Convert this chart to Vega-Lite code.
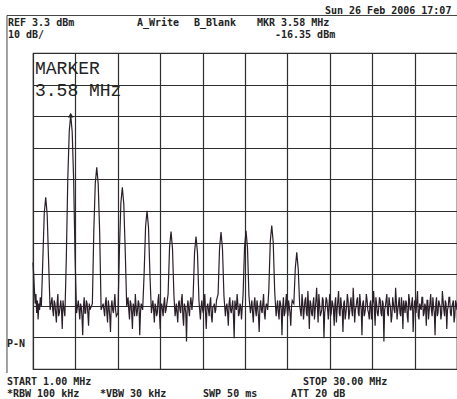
{
  "$schema": "https://vega.github.io/schema/vega-lite/v6.json",
  "width": 424,
  "height": 316,
  "autosize": {"type": "none"},
  "padding": {"left": 33, "top": 53, "right": 0, "bottom": 30},
  "background": "#ffffff",
  "config": {
    "view": {"stroke": "#2e2e2e", "strokeWidth": 1.2},
    "axis": {"labels": false, "ticks": false, "domain": false, "title": null, "grid": true, "gridColor": "#2e2e2e", "gridOpacity": 1, "gridWidth": 1.2}
  },
  "encoding": {
    "x": {"field": "f", "type": "quantitative",
          "scale": {"domain": [1, 30], "nice": false, "zero": false},
          "axis": {"values": [1, 3.9, 6.8, 9.7, 12.6, 15.5, 18.4, 21.3, 24.2, 27.1, 30]}},
    "y": {"field": "p", "type": "quantitative",
          "scale": {"domain": [-96.7, 3.3], "nice": false, "zero": false},
          "axis": {"values": [-96.7, -86.7, -76.7, -66.7, -56.7, -46.7, -36.7, -26.7, -16.7, -6.7, 3.3]}}
  },
  "layer": [
    {
      "data": {"values": [
        {"f": -0.78, "f2": 31, "p": 15.17, "p2": 15.17},
        {"f": -0.78, "f2": -0.78, "p": 15.17, "p2": -98}
      ]},
      "mark": {"type": "rule", "clip": false, "color": "#444444", "strokeWidth": 1},
      "encoding": {"x2": {"field": "f2"}, "y2": {"field": "p2"}}
    },
    {
      "data": {"values": [
        {"f": 1.00, "p": -63}, {"f": 1.05, "p": -67}, {"f": 1.10, "p": -72}, {"f": 1.15, "p": -76},
        {"f": 1.20, "p": -73}, {"f": 1.25, "p": -79}, {"f": 1.30, "p": -75}, {"f": 1.35, "p": -81},
        {"f": 1.40, "p": -76}, {"f": 1.45, "p": -78}, {"f": 1.50, "p": -74}, {"f": 1.57, "p": -77},
        {"f": 1.67, "p": -62.4}, {"f": 1.77, "p": -47.4}, {"f": 1.87, "p": -42.4}, {"f": 1.97, "p": -47.8},
        {"f": 2.07, "p": -63}, {"f": 2.17, "p": -78},
        {"f": 2.3, "p": -74}, {"f": 2.4, "p": -80}, {"f": 2.5, "p": -76}, {"f": 2.6, "p": -82},
        {"f": 2.7, "p": -73}, {"f": 2.8, "p": -79}, {"f": 2.9, "p": -75}, {"f": 3.0, "p": -84}, {"f": 3.1, "p": -77},
        {"f": 3.18, "p": -80}, {"f": 3.28, "p": -61.4}, {"f": 3.38, "p": -36.4}, {"f": 3.48, "p": -21.4},
        {"f": 3.58, "p": -16.35}, {"f": 3.68, "p": -21.6}, {"f": 3.78, "p": -36.8}, {"f": 3.88, "p": -61.8}, {"f": 3.98, "p": -79},
        {"f": 4.1, "p": -75}, {"f": 4.2, "p": -81}, {"f": 4.3, "p": -77}, {"f": 4.4, "p": -86}, {"f": 4.5, "p": -74},
        {"f": 4.6, "p": -79}, {"f": 4.7, "p": -76}, {"f": 4.8, "p": -83}, {"f": 4.9, "p": -78},
        {"f": 5.06, "p": -76}, {"f": 5.16, "p": -52.9}, {"f": 5.26, "p": -37.9}, {"f": 5.36, "p": -32.9},
        {"f": 5.46, "p": -38.2}, {"f": 5.56, "p": -53.4}, {"f": 5.66, "p": -78},
        {"f": 5.8, "p": -76}, {"f": 5.9, "p": -80}, {"f": 6.0, "p": -74}, {"f": 6.1, "p": -82}, {"f": 6.2, "p": -77},
        {"f": 6.3, "p": -85}, {"f": 6.4, "p": -75}, {"f": 6.5, "p": -79}, {"f": 6.6, "p": -73}, {"f": 6.7, "p": -80},
        {"f": 6.81, "p": -79}, {"f": 6.91, "p": -59.2}, {"f": 7.01, "p": -44.2}, {"f": 7.11, "p": -39.2},
        {"f": 7.21, "p": -44.5}, {"f": 7.31, "p": -59.6}, {"f": 7.41, "p": -77},
        {"f": 7.5, "p": -74}, {"f": 7.6, "p": -81}, {"f": 7.7, "p": -76}, {"f": 7.8, "p": -84}, {"f": 7.9, "p": -77},
        {"f": 8.0, "p": -73}, {"f": 8.1, "p": -80}, {"f": 8.2, "p": -75}, {"f": 8.3, "p": -86}, {"f": 8.4, "p": -76},
        {"f": 8.50, "p": -78}, {"f": 8.60, "p": -66.6}, {"f": 8.70, "p": -51.6}, {"f": 8.80, "p": -46.6},
        {"f": 8.90, "p": -51.9}, {"f": 9.00, "p": -67}, {"f": 9.10, "p": -79},
        {"f": 9.2, "p": -75}, {"f": 9.3, "p": -82}, {"f": 9.4, "p": -77}, {"f": 9.5, "p": -79}, {"f": 9.6, "p": -73},
        {"f": 9.7, "p": -84}, {"f": 9.8, "p": -76}, {"f": 9.9, "p": -80}, {"f": 10.0, "p": -74}, {"f": 10.1, "p": -78},
        {"f": 10.24, "p": -73}, {"f": 10.34, "p": -58.2}, {"f": 10.44, "p": -53.2}, {"f": 10.54, "p": -58.5}, {"f": 10.64, "p": -73.5},
        {"f": 10.72, "p": -80}, {"f": 10.8, "p": -76}, {"f": 10.9, "p": -82}, {"f": 11.0, "p": -75}, {"f": 11.1, "p": -79},
        {"f": 11.2, "p": -73}, {"f": 11.3, "p": -83}, {"f": 11.4, "p": -77}, {"f": 11.5, "p": -88}, {"f": 11.6, "p": -75},
        {"f": 11.7, "p": -80}, {"f": 11.8, "p": -74}, {"f": 11.87, "p": -78},
        {"f": 11.95, "p": -74}, {"f": 12.05, "p": -59.8}, {"f": 12.15, "p": -54.8}, {"f": 12.25, "p": -60}, {"f": 12.35, "p": -75},
        {"f": 12.45, "p": -81}, {"f": 12.55, "p": -75}, {"f": 12.65, "p": -79}, {"f": 12.75, "p": -73}, {"f": 12.85, "p": -84},
        {"f": 12.95, "p": -76}, {"f": 13.05, "p": -80}, {"f": 13.15, "p": -74}, {"f": 13.25, "p": -82}, {"f": 13.35, "p": -77},
        {"f": 13.45, "p": -79}, {"f": 13.55, "p": -75},
        {"f": 13.66, "p": -73}, {"f": 13.76, "p": -58.4}, {"f": 13.86, "p": -53.4}, {"f": 13.96, "p": -58.7}, {"f": 14.06, "p": -73.5},
        {"f": 14.16, "p": -80}, {"f": 14.26, "p": -76}, {"f": 14.36, "p": -83}, {"f": 14.46, "p": -74}, {"f": 14.56, "p": -79},
        {"f": 14.66, "p": -75}, {"f": 14.76, "p": -87}, {"f": 14.86, "p": -77}, {"f": 14.96, "p": -73}, {"f": 15.06, "p": -80},
        {"f": 15.16, "p": -76}, {"f": 15.26, "p": -81},
        {"f": 15.37, "p": -73}, {"f": 15.47, "p": -58}, {"f": 15.57, "p": -53.0}, {"f": 15.67, "p": -58.3}, {"f": 15.77, "p": -73.5},
        {"f": 15.87, "p": -79}, {"f": 15.97, "p": -75}, {"f": 16.07, "p": -82}, {"f": 16.17, "p": -74}, {"f": 16.27, "p": -80},
        {"f": 16.37, "p": -77}, {"f": 16.47, "p": -85}, {"f": 16.57, "p": -75}, {"f": 16.67, "p": -79}, {"f": 16.77, "p": -73},
        {"f": 16.87, "p": -81}, {"f": 16.97, "p": -76}, {"f": 17.05, "p": -78},
        {"f": 17.13, "p": -71.5}, {"f": 17.23, "p": -56.3}, {"f": 17.33, "p": -51.3}, {"f": 17.43, "p": -56.6}, {"f": 17.53, "p": -72},
        {"f": 17.63, "p": -80}, {"f": 17.73, "p": -75}, {"f": 17.83, "p": -81}, {"f": 17.93, "p": -76}, {"f": 18.03, "p": -86},
        {"f": 18.13, "p": -74}, {"f": 18.23, "p": -79}, {"f": 18.33, "p": -73}, {"f": 18.43, "p": -80}, {"f": 18.53, "p": -77},
        {"f": 18.63, "p": -83}, {"f": 18.73, "p": -75},
        {"f": 18.84, "p": -76}, {"f": 18.94, "p": -64.8}, {"f": 19.04, "p": -59.8}, {"f": 19.14, "p": -65}, {"f": 19.24, "p": -76.5},
        {"f": 19.34, "p": -80}, {"f": 19.4, "p": -73}, {"f": 19.5, "p": -81}, {"f": 19.6, "p": -75}, {"f": 19.7, "p": -79},
        {"f": 19.8, "p": -72}, {"f": 19.9, "p": -84}, {"f": 20.0, "p": -76}, {"f": 20.1, "p": -80}, {"f": 20.2, "p": -74},
        {"f": 20.3, "p": -78}, {"f": 20.4, "p": -71}, {"f": 20.5, "p": -82}, {"f": 20.6, "p": -76}, {"f": 20.7, "p": -79},
        {"f": 20.8, "p": -74}, {"f": 20.9, "p": -87}, {"f": 21.0, "p": -77}, {"f": 21.1, "p": -75}, {"f": 21.2, "p": -81},
        {"f": 21.3, "p": -73}, {"f": 21.4, "p": -79}, {"f": 21.5, "p": -76}, {"f": 21.6, "p": -83}, {"f": 21.7, "p": -74},
        {"f": 21.8, "p": -78}, {"f": 21.9, "p": -72}, {"f": 22.0, "p": -80}, {"f": 22.1, "p": -77}, {"f": 22.2, "p": -85},
        {"f": 22.3, "p": -75}, {"f": 22.4, "p": -79}, {"f": 22.5, "p": -73}, {"f": 22.6, "p": -81}, {"f": 22.7, "p": -76},
        {"f": 22.8, "p": -78}, {"f": 22.9, "p": -71}, {"f": 23.0, "p": -82}, {"f": 23.1, "p": -77}, {"f": 23.2, "p": -74},
        {"f": 23.3, "p": -80}, {"f": 23.4, "p": -76}, {"f": 23.5, "p": -86}, {"f": 23.6, "p": -75}, {"f": 23.7, "p": -79},
        {"f": 23.8, "p": -73}, {"f": 23.9, "p": -78}, {"f": 24.0, "p": -81}, {"f": 24.1, "p": -75}, {"f": 24.2, "p": -77},
        {"f": 24.3, "p": -72}, {"f": 24.4, "p": -83}, {"f": 24.5, "p": -76}, {"f": 24.6, "p": -80}, {"f": 24.7, "p": -74},
        {"f": 24.8, "p": -79}, {"f": 24.9, "p": -75}, {"f": 25.0, "p": -88}, {"f": 25.1, "p": -77}, {"f": 25.2, "p": -73},
        {"f": 25.3, "p": -80}, {"f": 25.4, "p": -76}, {"f": 25.5, "p": -82}, {"f": 25.6, "p": -74}, {"f": 25.7, "p": -78},
        {"f": 25.8, "p": -71}, {"f": 25.9, "p": -81}, {"f": 26.0, "p": -76}, {"f": 26.1, "p": -79}, {"f": 26.2, "p": -74},
        {"f": 26.3, "p": -84}, {"f": 26.4, "p": -77}, {"f": 26.5, "p": -75}, {"f": 26.6, "p": -80}, {"f": 26.7, "p": -73},
        {"f": 26.8, "p": -78}, {"f": 26.9, "p": -76}, {"f": 27.0, "p": -85}, {"f": 27.1, "p": -75}, {"f": 27.2, "p": -79},
        {"f": 27.3, "p": -72}, {"f": 27.4, "p": -81}, {"f": 27.5, "p": -77}, {"f": 27.6, "p": -74}, {"f": 27.7, "p": -80},
        {"f": 27.8, "p": -76}, {"f": 27.9, "p": -83}, {"f": 28.0, "p": -75}, {"f": 28.1, "p": -78}, {"f": 28.2, "p": -73},
        {"f": 28.3, "p": -80}, {"f": 28.4, "p": -77}, {"f": 28.5, "p": -86}, {"f": 28.6, "p": -74}, {"f": 28.7, "p": -79},
        {"f": 28.8, "p": -76}, {"f": 28.9, "p": -81}, {"f": 29.0, "p": -72}, {"f": 29.1, "p": -78}, {"f": 29.2, "p": -75},
        {"f": 29.3, "p": -84}, {"f": 29.4, "p": -77}, {"f": 29.5, "p": -74}, {"f": 29.6, "p": -80}, {"f": 29.7, "p": -76},
        {"f": 29.8, "p": -82}, {"f": 29.9, "p": -75}, {"f": 30.0, "p": -78},
        {"f": 2.35, "p": -78}, {"f": 2.45, "p": -75}, {"f": 2.55, "p": -79}, {"f": 2.65, "p": -76}, {"f": 2.75, "p": -80}, {"f": 2.85, "p": -77}, {"f": 2.95, "p": -78}, {"f": 3.05, "p": -75},
        {"f": 4.15, "p": -78}, {"f": 4.25, "p": -76}, {"f": 4.35, "p": -80}, {"f": 4.45, "p": -77}, {"f": 4.55, "p": -79}, {"f": 4.65, "p": -75}, {"f": 4.75, "p": -79}, {"f": 4.85, "p": -76},
        {"f": 5.85, "p": -78}, {"f": 5.95, "p": -76}, {"f": 6.05, "p": -79}, {"f": 6.15, "p": -75}, {"f": 6.25, "p": -80}, {"f": 6.35, "p": -77}, {"f": 6.45, "p": -78}, {"f": 6.55, "p": -76}, {"f": 6.65, "p": -78},
        {"f": 7.55, "p": -78}, {"f": 7.65, "p": -75}, {"f": 7.75, "p": -79}, {"f": 7.85, "p": -76}, {"f": 7.95, "p": -80}, {"f": 8.05, "p": -77}, {"f": 8.15, "p": -78}, {"f": 8.25, "p": -76}, {"f": 8.35, "p": -79}, {"f": 8.45, "p": -77},
        {"f": 9.25, "p": -78}, {"f": 9.35, "p": -76}, {"f": 9.45, "p": -80}, {"f": 9.55, "p": -75}, {"f": 9.65, "p": -79}, {"f": 9.75, "p": -77}, {"f": 9.85, "p": -78}, {"f": 9.95, "p": -76}, {"f": 10.05, "p": -79},
        {"f": 10.85, "p": -79}, {"f": 10.95, "p": -76}, {"f": 11.05, "p": -78}, {"f": 11.15, "p": -75}, {"f": 11.25, "p": -80}, {"f": 11.35, "p": -76}, {"f": 11.45, "p": -79}, {"f": 11.55, "p": -77}, {"f": 11.65, "p": -78}, {"f": 11.75, "p": -76},
        {"f": 12.5, "p": -77}, {"f": 12.6, "p": -78}, {"f": 12.7, "p": -76}, {"f": 12.8, "p": -79}, {"f": 12.9, "p": -77}, {"f": 13.0, "p": -78}, {"f": 13.1, "p": -76}, {"f": 13.2, "p": -80}, {"f": 13.3, "p": -77}, {"f": 13.4, "p": -76}, {"f": 13.5, "p": -78},
        {"f": 14.21, "p": -77}, {"f": 14.31, "p": -79}, {"f": 14.41, "p": -76}, {"f": 14.51, "p": -78}, {"f": 14.61, "p": -77}, {"f": 14.71, "p": -80}, {"f": 14.81, "p": -75}, {"f": 14.91, "p": -78}, {"f": 15.01, "p": -76}, {"f": 15.11, "p": -79}, {"f": 15.21, "p": -77},
        {"f": 15.92, "p": -77}, {"f": 16.02, "p": -79}, {"f": 16.12, "p": -76}, {"f": 16.22, "p": -78}, {"f": 16.32, "p": -75}, {"f": 16.42, "p": -80}, {"f": 16.52, "p": -77}, {"f": 16.62, "p": -78}, {"f": 16.72, "p": -76}, {"f": 16.82, "p": -79}, {"f": 16.92, "p": -77},
        {"f": 17.68, "p": -77}, {"f": 17.78, "p": -79}, {"f": 17.88, "p": -75}, {"f": 17.98, "p": -78}, {"f": 18.08, "p": -77}, {"f": 18.18, "p": -80}, {"f": 18.28, "p": -76}, {"f": 18.38, "p": -78}, {"f": 18.48, "p": -75}, {"f": 18.58, "p": -79}, {"f": 18.68, "p": -77},
        {"f": 19.45, "p": -76}, {"f": 19.55, "p": -78}, {"f": 19.65, "p": -74}, {"f": 19.75, "p": -80}, {"f": 19.85, "p": -77}, {"f": 19.95, "p": -75}, {"f": 20.05, "p": -79}, {"f": 20.15, "p": -76}, {"f": 20.25, "p": -81}, {"f": 20.35, "p": -75},
        {"f": 20.45, "p": -77}, {"f": 20.55, "p": -73}, {"f": 20.65, "p": -80}, {"f": 20.75, "p": -78}, {"f": 20.85, "p": -75}, {"f": 20.95, "p": -79}, {"f": 21.05, "p": -74}, {"f": 21.15, "p": -78}, {"f": 21.25, "p": -76}, {"f": 21.35, "p": -80},
        {"f": 21.45, "p": -75}, {"f": 21.55, "p": -78}, {"f": 21.65, "p": -76}, {"f": 21.75, "p": -82}, {"f": 21.85, "p": -75}, {"f": 21.95, "p": -79}, {"f": 22.05, "p": -74}, {"f": 22.15, "p": -78}, {"f": 22.25, "p": -76}, {"f": 22.35, "p": -81},
        {"f": 22.45, "p": -77}, {"f": 22.55, "p": -75}, {"f": 22.65, "p": -79}, {"f": 22.75, "p": -74}, {"f": 22.85, "p": -80}, {"f": 22.95, "p": -76}, {"f": 23.05, "p": -78}, {"f": 23.15, "p": -75}, {"f": 23.25, "p": -79}, {"f": 23.35, "p": -73},
        {"f": 23.45, "p": -78}, {"f": 23.55, "p": -76}, {"f": 23.65, "p": -80}, {"f": 23.75, "p": -77}, {"f": 23.85, "p": -75}, {"f": 23.95, "p": -79}, {"f": 24.05, "p": -76}, {"f": 24.15, "p": -81}, {"f": 24.25, "p": -75}, {"f": 24.35, "p": -78},
        {"f": 24.45, "p": -74}, {"f": 24.55, "p": -79}, {"f": 24.65, "p": -77}, {"f": 24.75, "p": -75}, {"f": 24.85, "p": -80}, {"f": 24.95, "p": -76}, {"f": 25.05, "p": -78}, {"f": 25.15, "p": -75}, {"f": 25.25, "p": -79}, {"f": 25.35, "p": -74},
        {"f": 25.45, "p": -77}, {"f": 25.55, "p": -80}, {"f": 25.65, "p": -76}, {"f": 25.75, "p": -79}, {"f": 25.85, "p": -75}, {"f": 25.95, "p": -78}, {"f": 26.05, "p": -74}, {"f": 26.15, "p": -80}, {"f": 26.25, "p": -77}, {"f": 26.35, "p": -75},
        {"f": 26.45, "p": -79}, {"f": 26.55, "p": -76}, {"f": 26.65, "p": -82}, {"f": 26.75, "p": -75}, {"f": 26.85, "p": -78}, {"f": 26.95, "p": -74}, {"f": 27.05, "p": -79}, {"f": 27.15, "p": -77}, {"f": 27.25, "p": -75}, {"f": 27.35, "p": -80},
        {"f": 27.45, "p": -76}, {"f": 27.55, "p": -78}, {"f": 27.65, "p": -74}, {"f": 27.75, "p": -79}, {"f": 27.85, "p": -77}, {"f": 27.95, "p": -75}, {"f": 28.05, "p": -81}, {"f": 28.15, "p": -76}, {"f": 28.25, "p": -78}, {"f": 28.35, "p": -74},
        {"f": 28.45, "p": -79}, {"f": 28.55, "p": -76}, {"f": 28.65, "p": -80}, {"f": 28.75, "p": -75}, {"f": 28.85, "p": -77}, {"f": 28.95, "p": -79}, {"f": 29.05, "p": -75}, {"f": 29.15, "p": -80}, {"f": 29.25, "p": -76}, {"f": 29.35, "p": -78},
        {"f": 29.45, "p": -74}, {"f": 29.55, "p": -79}, {"f": 29.65, "p": -77}, {"f": 29.75, "p": -75}, {"f": 29.85, "p": -80}, {"f": 29.95, "p": -76}
      ]},
      "mark": {"type": "line", "color": "#2a1f29", "strokeWidth": 1.2}
    },
    {
      "data": {"values": [{"f": 3.58, "p": -16.35}]},
      "mark": {"type": "point", "shape": "triangle-up", "filled": true, "size": 30, "color": "#222222", "opacity": 1}
    },
    {
      "data": {"values": [
        {"label": "Sun 26 Feb 2006 17:07", "f": 20.97, "p": 15.80},
        {"label": "REF 3.3 dBm", "f": -0.71, "p": 12.0},
        {"label": "10 dB/", "f": -0.71, "p": 8.2},
        {"label": "A_Write", "f": 8.11, "p": 12.0},
        {"label": "B_Blank", "f": 12.01, "p": 12.0},
        {"label": "MKR 3.58 MHz", "f": 16.32, "p": 12.0},
        {"label": "-16.35 dBm", "f": 17.55, "p": 8.2},
        {"label": "P-N", "f": -0.78, "p": -89.74},
        {"label": "START 1.00 MHz", "f": -0.78, "p": -101.76},
        {"label": "STOP 30.00 MHz", "f": 19.47, "p": -101.76},
        {"label": "*RBW 100 kHz", "f": -0.78, "p": -105.56},
        {"label": "*VBW 30 kHz", "f": 5.58, "p": -105.56},
        {"label": "SWP 50 ms", "f": 12.63, "p": -105.56},
        {"label": "ATT 20 dB", "f": 18.65, "p": -105.56}
      ]},
      "mark": {"type": "text", "clip": false, "align": "left", "baseline": "alphabetic", "font": "DejaVu Sans Mono", "fontSize": 10, "fontWeight": "bold", "color": "#222222"},
      "encoding": {"text": {"field": "label"}}
    },
    {
      "data": {"values": [
        {"label": "MARKER", "f": 1.137, "p": -3.5},
        {"label": "3.58 MHz", "f": 1.137, "p": -10.15}
      ]},
      "mark": {"type": "text", "clip": false, "align": "left", "baseline": "alphabetic", "font": "Liberation Mono", "fontSize": 18, "color": "#222222"},
      "encoding": {"text": {"field": "label"}}
    }
  ]
}
